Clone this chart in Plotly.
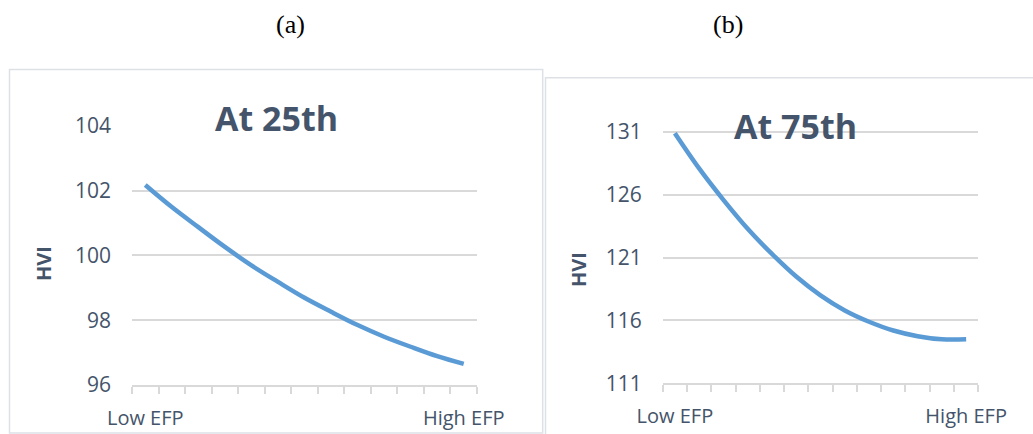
import plotly.graph_objects as go

# ---------------- data ----------------
efp_steps = [1, 2, 3, 4, 5, 6, 7, 8, 9, 10, 11, 12, 13]
hvi_25th = [102.17, 101.49, 100.87, 100.26, 99.69, 99.18, 98.69, 98.26, 97.85, 97.49, 97.18, 96.89, 96.65]
hvi_75th = [130.9, 128.1, 125.6, 123.3, 121.3, 119.5, 118.0, 116.8, 115.9, 115.2, 114.75, 114.5, 114.5]
x_tick_labels = ["Low EFP", "High EFP"]
y_ticks_25th = [96, 98, 100, 102, 104]
y_ticks_75th = [111, 116, 121, 126, 131]
panel_titles = ["At 25th", "At 75th"]
panel_letters = ["(a)", "(b)"]

W, H = 1033, 434
def px(x):
    return x / W
def py(y):
    return 1 - y / H

LINE = "#5B9BD5"
TXT = "#44546A"
GRID = "#D9D9D9"
FONT = "Open Sans"

fig = go.Figure()
fig.add_trace(go.Scatter(x=efp_steps, y=hvi_25th, mode="lines",
                         line=dict(color=LINE, width=4.5, shape="spline", smoothing=1),
                         xaxis="x", yaxis="y", showlegend=False, hoverinfo="skip"))
fig.add_trace(go.Scatter(x=efp_steps, y=hvi_75th, mode="lines",
                         line=dict(color=LINE, width=4.5, shape="spline", smoothing=1),
                         xaxis="x2", yaxis="y2", showlegend=False, hoverinfo="skip"))

n = len(efp_steps)
boundaries = [efp_steps[0] - 0.5 + i for i in range(n + 1)]

def xaxis(domain, anchor):
    return dict(domain=domain, range=[efp_steps[0] - 0.5, efp_steps[-1] + 0.5],
                anchor=anchor, automargin=False,
                tickvals=[efp_steps[0], efp_steps[-1]], ticktext=x_tick_labels,
                ticks="", showgrid=False, zeroline=False,
                showline=True, linecolor=GRID, linewidth=1.5,
                tickfont=dict(family=FONT, size=20, color=TXT),
                ticklabelstandoff=14,
                minor=dict(tickvals=boundaries, ticks="outside", ticklen=7,
                           tickcolor=GRID, tickwidth=1.5, showgrid=False),
                fixedrange=True)

def yaxis(domain, rng, ticks, anchor):
    return dict(domain=domain, range=rng, tickvals=ticks, ticks="",
                showgrid=True, gridcolor=GRID, gridwidth=1.5, zeroline=False,
                showline=False, anchor=anchor, automargin=False,
                tickfont=dict(family=FONT, size=21, color=TXT),
                ticklabelstandoff=20, fixedrange=True)

# left panel geometry (pixels)
l_x0, l_x1 = 132, 477
l_ybot, l_ytop = 385, 125.7
# right panel geometry
r_x0, r_x1 = 662.7, 978.3
r_ybot, r_ytop131 = 383.3, 132
r_unit = (r_ybot - r_ytop131) / 20.0
r_top_val = 131.4
r_ytop = r_ytop131 - (r_top_val - 131) * r_unit

fig.update_layout(
    width=W, height=H, autosize=False,
    margin=dict(l=0, r=0, t=0, b=0, pad=0, autoexpand=False),
    paper_bgcolor="white", plot_bgcolor="white",
    xaxis=xaxis([px(l_x0), px(l_x1)], "y"),
    yaxis=yaxis([py(l_ybot), py(l_ytop)], [96, 104], y_ticks_25th, "x"),
    xaxis2=xaxis([px(r_x0), px(r_x1)], "y2"),
    yaxis2=yaxis([py(r_ybot), py(r_ytop)], [111, r_top_val], y_ticks_75th, "x2"),
)

shapes = [
    dict(type="rect", xref="paper", yref="paper",
         x0=px(9.5), x1=px(542.7), y0=py(433), y1=py(69.5),
         line=dict(color="#DDE1E6", width=1.5), layer="below"),
    dict(type="rect", xref="paper", yref="paper",
         x0=px(545.5), x1=px(1045), y0=py(445), y1=py(77.7),
         line=dict(color="#DDE1E6", width=1.5), layer="below"),
]
fig.update_layout(shapes=shapes)

ann = []
# panel letters
for txt, cx in zip(panel_letters, [290, 728]):
    ann.append(dict(text=txt, x=px(cx), y=py(24.5), xref="paper", yref="paper",
                    xanchor="center", yanchor="middle", showarrow=False,
                    font=dict(family="Liberation Serif", size=26, color="black")))
# chart titles
for txt, cx, cy in zip(panel_titles, [276.5, 795], [118, 125.7]):
    ann.append(dict(text="<b>%s</b>" % txt, x=px(cx), y=py(cy), xref="paper", yref="paper",
                    xanchor="center", yanchor="middle", showarrow=False,
                    font=dict(family=FONT, size=34, color=TXT)))
# y axis titles
for cx, cy in [(43, 264), (578, 270)]:
    ann.append(dict(text="<b>HVI</b>", x=px(cx), y=py(cy), xref="paper", yref="paper",
                    xanchor="center", yanchor="middle", showarrow=False, textangle=-90,
                    font=dict(family=FONT, size=20, color=TXT)))
fig.update_layout(annotations=ann)

fig.write_html("out.html", config={"responsive": False, "displayModeBar": False},
               post_script="document.body.style.margin='0';document.body.style.overflow='hidden';")
